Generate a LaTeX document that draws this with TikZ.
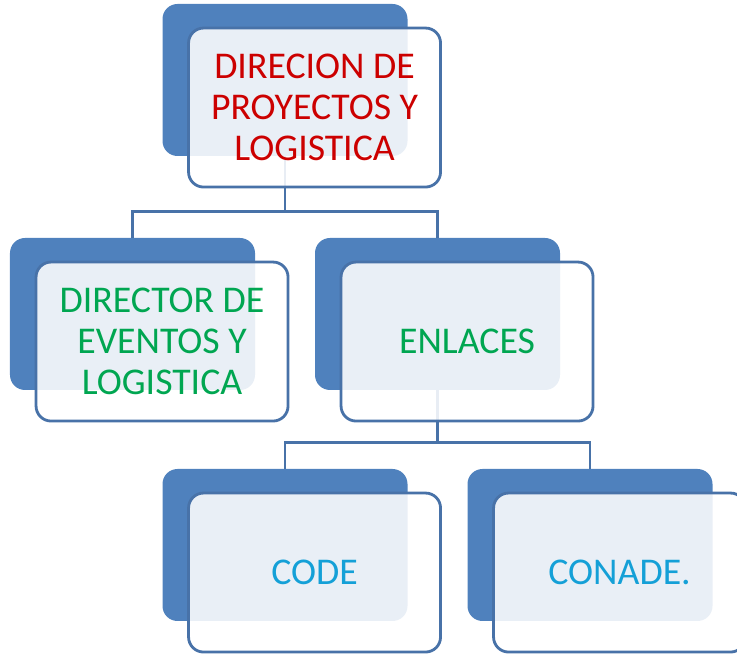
\documentclass[tikz,border=0pt]{standalone}
\usepackage{fontspec}
\setmainfont{Carlito}
\usetikzlibrary{positioning}

\definecolor{boxblue}{RGB}{79,129,189}
\definecolor{lineblue}{RGB}{72,114,168}
\definecolor{txtred}{RGB}{204,0,0}
\definecolor{txtgreen}{RGB}{0,166,81}
\definecolor{txtcyan}{RGB}{20,160,215}

\tikzset{
  back/.style={rectangle, rounded corners=0.3cm, fill=boxblue,
    minimum width=4.9cm, minimum height=3.04cm, inner sep=0pt},
  front/.style={rectangle, rounded corners=0.3cm, draw=lineblue, line width=1.6pt,
    fill=white, fill opacity=0.88, text opacity=1,
    minimum width=5.04cm, minimum height=3.18cm, inner sep=0pt, align=center,
    font=\fontsize{21.5}{23.2}\selectfont},
  link/.style={draw=lineblue, line width=1.6pt}
}

\begin{document}
\begin{tikzpicture}
  \useasboundingbox (0,0) rectangle (14.74,-13.08);

  % back boxes
  \node[back] (dir) at (5.7,-1.6) {};
  \node[back] (eve) at (2.65,-6.28) {};
  \node[back] (enl) at (8.75,-6.28) {};
  \node[back] (code) at (5.7,-10.9) {};
  \node[back] (conade) at (11.8,-10.9) {};

  % links
  \draw[link] (dir.south) -- ++(0,-1.1) -| (eve.north);
  \draw[link] (dir.south) -- ++(0,-1.1) -| (enl.north);
  \draw[link] (enl.south) -- ++(0,-1.05) -| (code.north);
  \draw[link] (enl.south) -- ++(0,-1.05) -| (conade.north);

  % front boxes
  \node[front, text=txtred, below right=0.46 and 0.5 of dir.north west] (dirt)
    {DIRECION DE\\PROYECTOS Y\\LOGISTICA};
  \node[front, text=txtgreen, below right=0.46 and 0.5 of eve.north west] (evet)
    {DIRECTOR DE\\EVENTOS Y\\LOGISTICA};
  \node[front, text=txtgreen, below right=0.46 and 0.5 of enl.north west] (enlt)
    {ENLACES};
  \node[front, text=txtcyan, below right=0.46 and 0.5 of code.north west] (codet)
    {CODE};
  \node[front, text=txtcyan, below right=0.46 and 0.5 of conade.north west] (conadet)
    {CONADE.};
\end{tikzpicture}
\end{document}
